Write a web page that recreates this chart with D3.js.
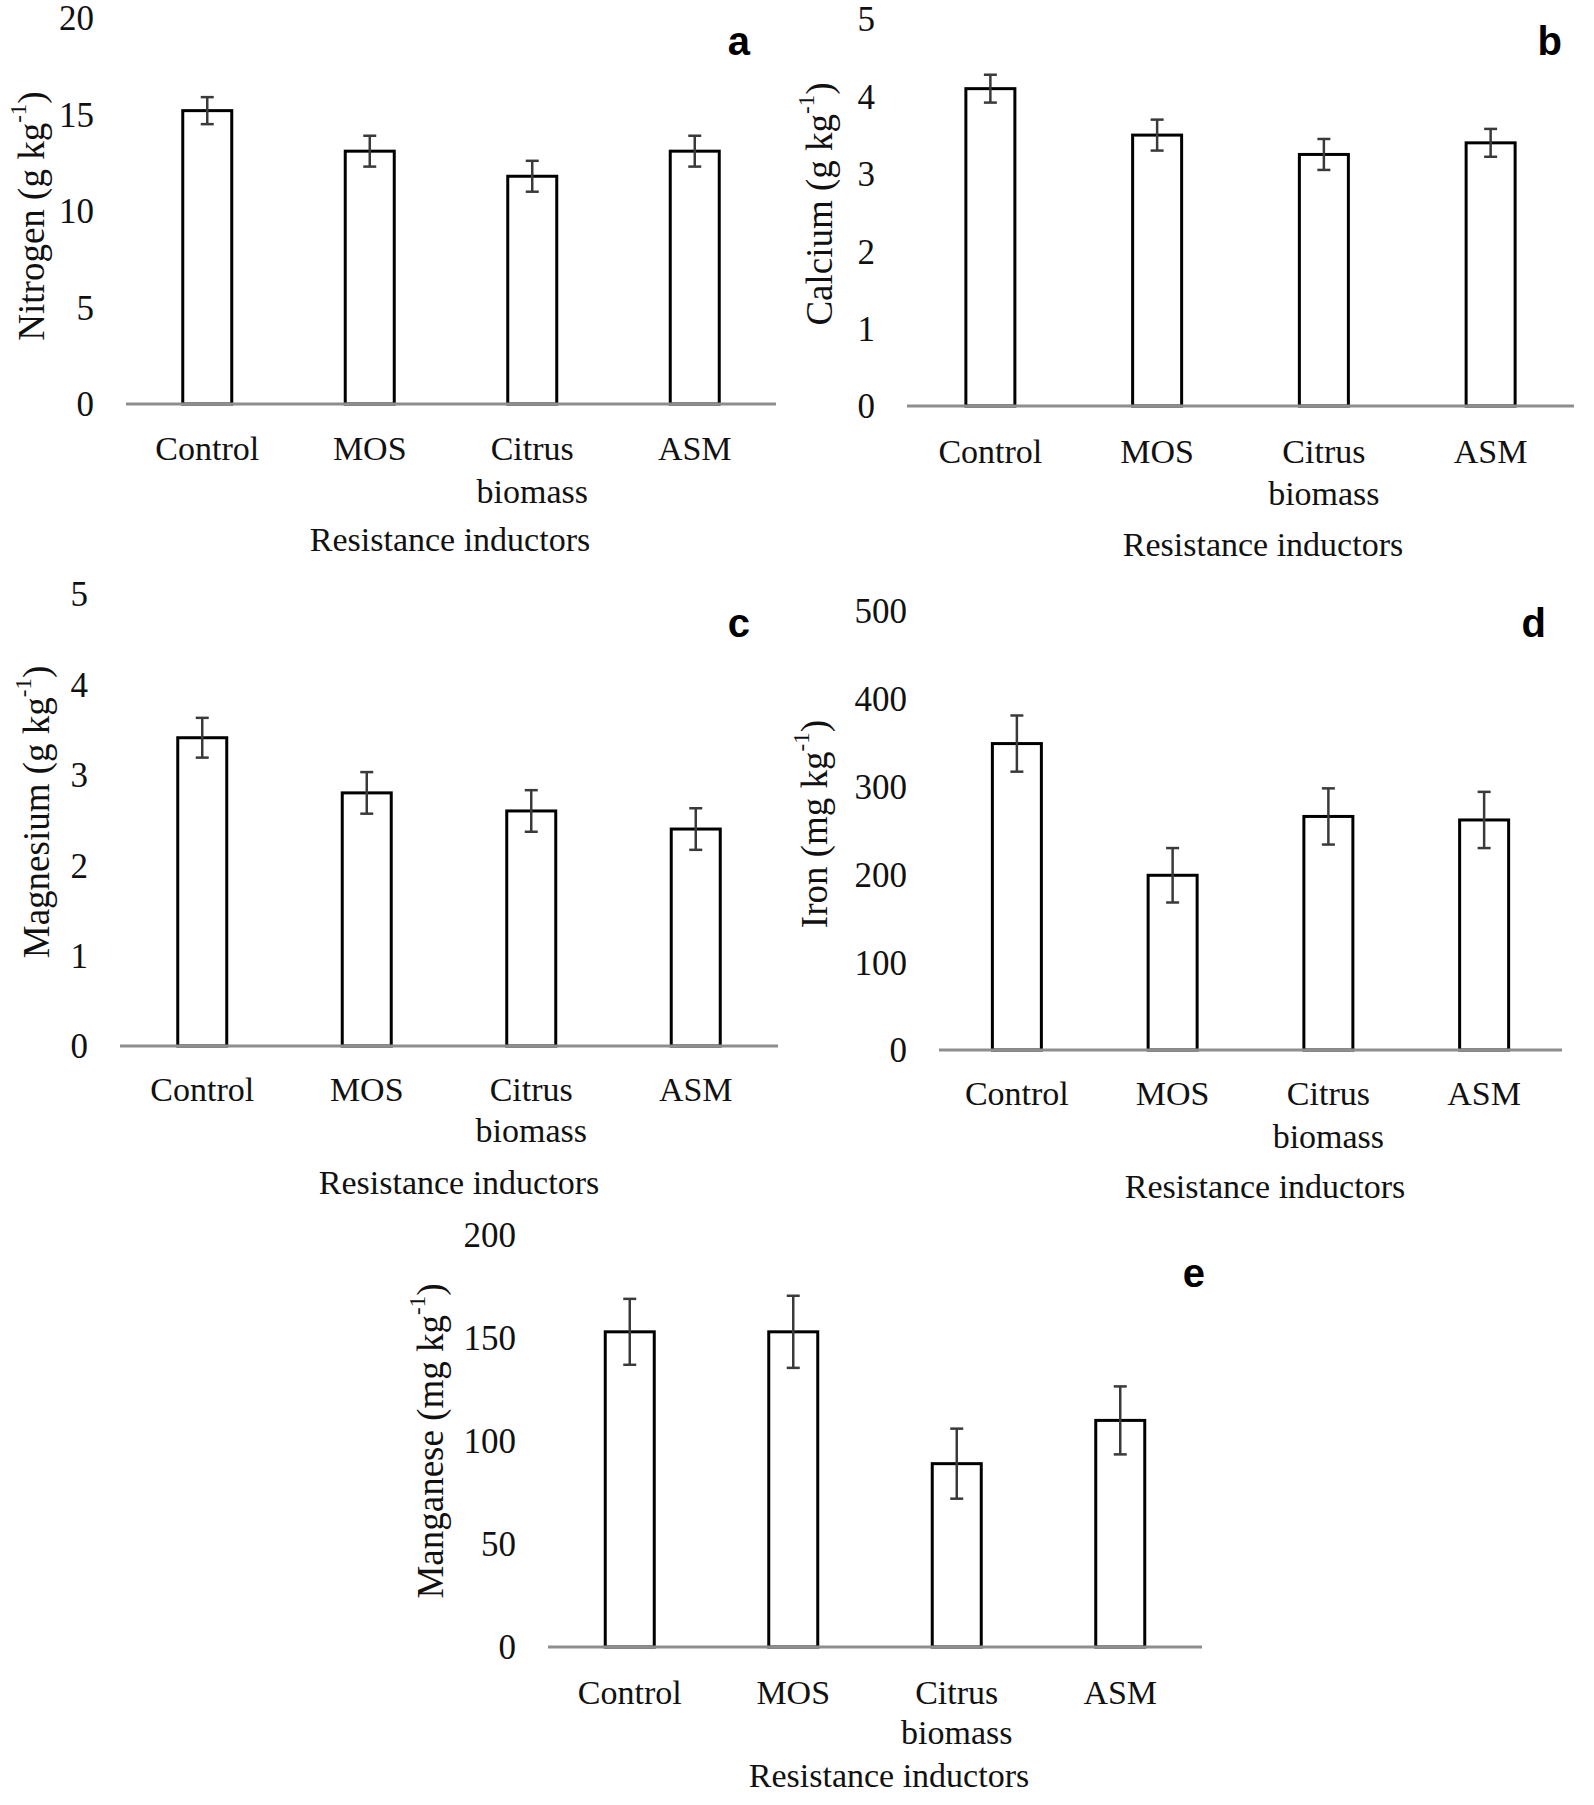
<!DOCTYPE html>
<html>
<head>
<meta charset="utf-8">
<script src="https://cdn.jsdelivr.net/npm/d3@7"></script>
<style>
  html, body { margin: 0; padding: 0; background: #fff; }
  svg { display: block; }
</style>
</head>
<body>
<svg id="chart" width="1594" height="1805"></svg>
<script>
// ---------- DATA ----------
const categories = ["Control", "MOS", "Citrus biomass", "ASM"];
const xAxisTitle = "Resistance inductors";

const nitrogenMean = [15.2, 13.1, 11.8, 13.1];
const nitrogenErr  = [0.7, 0.8, 0.8, 0.8];
const nitrogenTicks = [0, 5, 10, 15, 20];

const calciumMean = [4.1, 3.5, 3.25, 3.4];
const calciumErr  = [0.18, 0.2, 0.2, 0.18];
const calciumTicks = [0, 1, 2, 3, 4, 5];

const magnesiumMean = [3.41, 2.8, 2.6, 2.4];
const magnesiumErr  = [0.22, 0.23, 0.23, 0.23];
const magnesiumTicks = [0, 1, 2, 3, 4, 5];

const ironMean = [349, 199, 266, 262];
const ironErr  = [32, 31, 32, 32];
const ironTicks = [0, 100, 200, 300, 400, 500];

const manganeseMean = [153, 153, 89, 110];
const manganeseErr  = [16, 17.5, 17, 16.5];
const manganeseTicks = [0, 50, 100, 150, 200];

// ---------- LAYOUT ----------
const panels = [
  { letter: "a", name: "Nitrogen", unit: "g kg", mean: nitrogenMean, err: nitrogenErr, ticks: nitrogenTicks,
    x0: 126, x1: 776, y0: 404, yTop: 18, ylx: 31, yly: 216, letterX: 750, letterY: 55, catDy: 56, bioDy: 99, titleDy: 147, titleX: 450 },
  { letter: "b", name: "Calcium", unit: "g kg", mean: calciumMean, err: calciumErr, ticks: calciumTicks,
    x0: 907, x1: 1574, y0: 406, yTop: 19, ylx: 819, yly: 204, letterX: 1562, letterY: 55, catDy: 57, bioDy: 99, titleDy: 150, titleX: 1263 },
  { letter: "c", name: "Magnesium", unit: "g kg", mean: magnesiumMean, err: magnesiumErr, ticks: magnesiumTicks,
    x0: 120, x1: 778, y0: 1046, yTop: 594, ylx: 36, yly: 812, letterX: 750, letterY: 637, catDy: 55, bioDy: 96, titleDy: 148, titleX: 459 },
  { letter: "d", name: "Iron", unit: "mg kg", mean: ironMean, err: ironErr, ticks: ironTicks,
    x0: 939, x1: 1562, y0: 1050, yTop: 611, ylx: 814, yly: 824, letterX: 1546, letterY: 637, catDy: 55, bioDy: 98, titleDy: 148, titleX: 1265 },
  { letter: "e", name: "Manganese", unit: "mg kg", mean: manganeseMean, err: manganeseErr, ticks: manganeseTicks,
    x0: 548, x1: 1202, y0: 1647, yTop: 1235, ylx: 430, yly: 1441, letterX: 1205, letterY: 1287, catDy: 57, bioDy: 97, titleDy: 140, titleX: 889 }
];

const serif = "'Liberation Serif', 'Times New Roman', serif";
const sans = "'Liberation Sans', Arial, sans-serif";
const barWidth = 49;
const capWidth = 13;

const svg = d3.select("#chart");

panels.forEach(p => {
  const g = svg.append("g");
  const tmax = p.ticks[p.ticks.length - 1];
  const y = d3.scaleLinear().domain([0, tmax]).range([p.y0, p.yTop]);
  const x = d3.scalePoint().domain(categories).range([p.x0, p.x1]).padding(0.5);

  // y tick labels via axis (no line / ticks)
  const yAxis = d3.axisLeft(y).tickValues(p.ticks).tickSize(0).tickPadding(0).tickFormat(d3.format("d"));
  const ya = g.append("g").attr("transform", `translate(${p.x0 - 32},0)`).call(yAxis);
  ya.select(".domain").remove();
  ya.selectAll("text")
    .attr("font-family", serif).attr("font-size", 35).attr("fill", "#111")
    .attr("dy", "0.34em");

  // bars
  const data = categories.map((c, i) => ({ c, v: p.mean[i], e: p.err[i] }));
  g.selectAll("rect.bar").data(data).enter().append("rect")
    .attr("class", "bar")
    .attr("x", d => x(d.c) - barWidth / 2)
    .attr("y", d => y(d.v))
    .attr("width", barWidth)
    .attr("height", d => y(0) - y(d.v))
    .attr("fill", "#fff").attr("stroke", "#000").attr("stroke-width", 3);

  // baseline (x axis)
  const xAxis = d3.axisBottom(x).tickSize(0).tickFormat("");
  const xa = g.append("g").attr("transform", `translate(0,${p.y0})`).call(xAxis);
  xa.select(".domain").attr("stroke", "#8e8e8e").attr("stroke-width", 3)
    .attr("d", `M${p.x0},0H${p.x1}`);

  // error bars
  const eb = g.selectAll("g.err").data(data).enter().append("g").attr("class", "err")
    .attr("stroke", "#3a3a3a").attr("stroke-width", 2.5);
  eb.append("line").attr("x1", d => x(d.c)).attr("x2", d => x(d.c))
    .attr("y1", d => y(d.v + d.e)).attr("y2", d => y(d.v - d.e));
  eb.append("line").attr("x1", d => x(d.c) - capWidth / 2).attr("x2", d => x(d.c) + capWidth / 2)
    .attr("y1", d => y(d.v + d.e)).attr("y2", d => y(d.v + d.e));
  eb.append("line").attr("x1", d => x(d.c) - capWidth / 2).attr("x2", d => x(d.c) + capWidth / 2)
    .attr("y1", d => y(d.v - d.e)).attr("y2", d => y(d.v - d.e));

  // category labels
  const cl = g.selectAll("text.cat").data(categories).enter().append("text")
    .attr("class", "cat")
    .attr("font-family", serif).attr("font-size", 34).attr("fill", "#111")
    .attr("text-anchor", "middle");
  cl.each(function(c) {
    const words = c.split(" ");
    const t = d3.select(this);
    words.forEach((w, k) => {
      t.append("tspan").attr("x", x(c)).attr("y", p.y0 + (k === 0 ? p.catDy : p.bioDy)).text(w);
    });
  });

  // x axis title
  g.append("text").attr("x", p.titleX).attr("y", p.y0 + p.titleDy)
    .attr("text-anchor", "middle").attr("font-family", serif).attr("font-size", 34).attr("fill", "#111")
    .text(xAxisTitle);

  // y axis title
  const yt = g.append("text")
    .attr("transform", `translate(${p.ylx},${p.yly}) rotate(-90)`)
    .attr("text-anchor", "middle").attr("dominant-baseline", "central")
    .attr("font-family", serif).attr("font-size", 37).attr("fill", "#111");
  yt.append("tspan").text(`${p.name} (${p.unit}`);
  yt.append("tspan").attr("font-size", 23).attr("dy", "-0.55em").text("-1");
  yt.append("tspan").attr("dy", "0.35em").text(")");

  // panel letter
  g.append("text").attr("x", p.letterX).attr("y", p.letterY)
    .attr("text-anchor", "end").attr("font-family", sans).attr("font-weight", "bold")
    .attr("font-size", 40).attr("fill", "#000").text(p.letter);
});
</script>
</body>
</html>
